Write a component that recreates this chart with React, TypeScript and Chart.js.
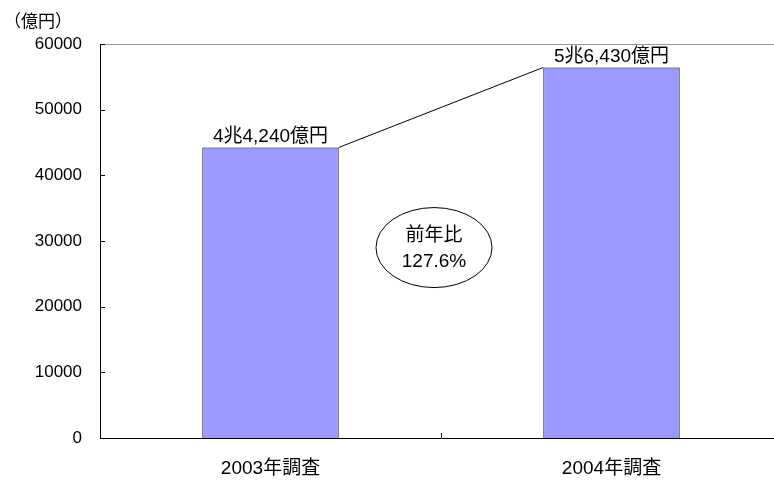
import React, { useEffect, useRef } from "react";
import { Chart, registerables } from "chart.js";

Chart.register(...registerables);

const categories = ["2003年調査", "2004年調査"];
const values = [44240, 56430];
const valueLabels = ["4兆4,240億円", "5兆6,430億円"];
const yMin = 0;
const yMax = 60000;
const yStep = 10000;
const unitLabel = "（億円）";
const ratioLines = ["前年比", "127.6%"];
const ratioAnchorValue = 29000;

const REGULAR = "'Liberation Sans', Arial, 'Noto Sans CJK JP', sans-serif";
const CJK = "'Noto Sans CJK JP', sans-serif";

const overlayPlugin = {
  id: "overlay",
  afterDraw(chart: any) {
    const ctx = chart.ctx as CanvasRenderingContext2D;
    const { left, top, bottom } = chart.chartArea;
    const xs = chart.scales.x;
    const ys = chart.scales.y;
    ctx.save();

    // top frame line
    ctx.strokeStyle = "#999999";
    ctx.lineWidth = 1;
    ctx.beginPath();
    ctx.moveTo(left, Math.round(top) + 0.5);
    ctx.lineTo(chart.width, Math.round(top) + 0.5);
    ctx.stroke();

    // inner y ticks
    ctx.strokeStyle = "#000000";
    ys.ticks.forEach((_t: any, i: number) => {
      const py = Math.round(ys.getPixelForTick(i)) + 0.5;
      ctx.beginPath();
      ctx.moveTo(left, py);
      ctx.lineTo(left + 5, py);
      ctx.stroke();
    });

    // inner x ticks at category boundaries
    for (let i = 1; i < categories.length; i++) {
      const px = Math.round((xs.getPixelForValue(i - 1) + xs.getPixelForValue(i)) / 2) + 0.5;
      ctx.beginPath();
      ctx.moveTo(px, bottom);
      ctx.lineTo(px, bottom - 5);
      ctx.stroke();
    }

    const meta = chart.getDatasetMeta(0);
    const bars = meta.data.map((b: any) => b.getProps(["x", "y", "width", "base"], true));

    // connector line
    if (bars.length >= 2) {
      ctx.strokeStyle = "#000000";
      ctx.lineWidth = 1;
      ctx.beginPath();
      ctx.moveTo(bars[0].x + bars[0].width / 2, bars[0].y);
      ctx.lineTo(bars[1].x - bars[1].width / 2, bars[1].y);
      ctx.stroke();
    }

    // bar labels
    ctx.fillStyle = "#000000";
    ctx.font = `19px ${REGULAR}`;
    ctx.textAlign = "center";
    ctx.textBaseline = "alphabetic";
    bars.forEach((b: any, i: number) => {
      ctx.fillText(valueLabels[i], b.x, b.y - 5);
    });

    // ellipse with ratio
    const cx = xs.getPixelForValue(0.5) - 7;
    const cy = ys.getPixelForValue(ratioAnchorValue);
    ctx.beginPath();
    ctx.ellipse(cx, cy, 58, 40, 0, 0, Math.PI * 2);
    ctx.fillStyle = "#ffffff";
    ctx.fill();
    ctx.strokeStyle = "#000000";
    ctx.stroke();
    ctx.fillStyle = "#000000";
    ctx.textBaseline = "middle";
    ctx.font = `19px ${REGULAR}`;
    ctx.fillText(ratioLines[0], cx, cy - 12);
    ctx.fillText(ratioLines[1], cx, cy + 14);

    // unit label
    ctx.font = `17px ${CJK}`;
    ctx.textAlign = "left";
    ctx.textBaseline = "middle";
    ctx.fillText(unitLabel, 4, 21);

    ctx.restore();
  },
};

export default function App() {
  const ref = useRef<HTMLCanvasElement | null>(null);
  useEffect(() => {
    if (!ref.current) return;
    const chart = new Chart(ref.current, {
      type: "bar",
      data: {
        labels: categories,
        datasets: [
          {
            data: values,
            backgroundColor: "#9999FF",
            borderColor: "#000000",
            borderWidth: 1,
            categoryPercentage: 1,
            barPercentage: 0.4,
          },
        ],
      },
      options: {
        responsive: false,
        animation: false,
        layout: { padding: { top: 44, right: 0, bottom: 0, left: 0 } },
        plugins: {
          legend: { display: false },
          tooltip: { enabled: false },
        },
        scales: {
          x: {
            grid: { display: false, drawTicks: false },
            border: { display: true, color: "#000000", width: 1 },
            ticks: {
              padding: 19,
              color: "#000000",
              font: { family: REGULAR, size: 19 },
              maxRotation: 0,
            },
            afterFit: (s: any) => {
              s.height = 43;
            },
          },
          y: {
            min: yMin,
            max: yMax,
            grid: { display: false, drawTicks: false },
            border: { display: true, color: "#000000", width: 1 },
            ticks: {
              stepSize: yStep,
              padding: 18,
              color: "#000000",
              font: { family: REGULAR, size: 17 },
              callback: (v: any) => String(v),
            },
            afterFit: (s: any) => {
              s.width = 100;
            },
          },
        },
      },
      plugins: [overlayPlugin],
    });
    return () => chart.destroy();
  }, []);
  return (
    <div style={{ position: "absolute", left: 0, top: 0, width: 774, height: 481, background: "#fff", overflow: "hidden" }}>
      <canvas ref={ref} width={782} height={481} style={{ display: "block" }} />
    </div>
  );
}
